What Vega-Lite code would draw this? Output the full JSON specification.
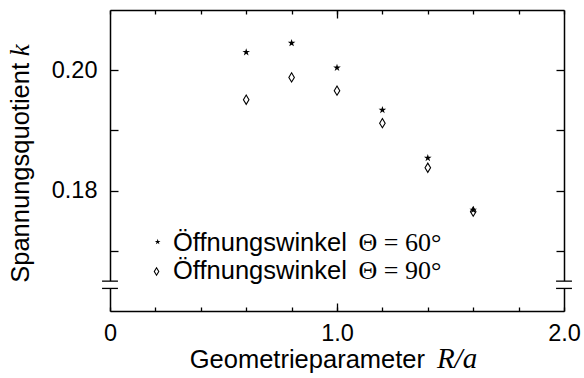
{
  "$schema": "https://vega.github.io/schema/vega-lite/v6.json",
  "width": 454,
  "height": 301,
  "autosize": {"type": "none"},
  "padding": {"left": 110, "top": 10, "right": 20, "bottom": 67},
  "config": {
    "view": {"stroke": null},
    "axis": {
      "grid": false,
      "domainColor": "black",
      "domainWidth": 1.5,
      "tickColor": "black",
      "tickWidth": 1.3,
      "labelColor": "black",
      "labelFont": "Liberation Sans",
      "labelFontSize": 23.5
    }
  },
  "datasets": {
    "points": [
      {"R": 0.6, "k": 0.2030, "theta": "60"},
      {"R": 0.8, "k": 0.2045, "theta": "60"},
      {"R": 1.0, "k": 0.2004, "theta": "60"},
      {"R": 1.2, "k": 0.1934, "theta": "60"},
      {"R": 1.4, "k": 0.1854, "theta": "60"},
      {"R": 1.6, "k": 0.1768, "theta": "60"},
      {"R": 0.6, "k": 0.1951, "theta": "90"},
      {"R": 0.8, "k": 0.1988, "theta": "90"},
      {"R": 1.0, "k": 0.1966, "theta": "90"},
      {"R": 1.2, "k": 0.1912, "theta": "90"},
      {"R": 1.4, "k": 0.1838, "theta": "90"},
      {"R": 1.6, "k": 0.1765, "theta": "90"}
    ],
    "legend": [
      {"theta": "60", "sx": 0.21, "sy": 0.17149, "tx": 0.2775, "ty": 0.16992, "mx": 1.095, "label": "Öffnungswinkel", "math": "Θ = 60°"},
      {"theta": "90", "sx": 0.205, "sy": 0.16657, "tx": 0.2775, "ty": 0.16527, "mx": 1.095, "label": "Öffnungswinkel", "math": "Θ = 90°"}
    ],
    "breakrect": [
      {"bx1": -0.015, "bx2": 0.015, "by1": 0.16375, "by2": 0.16496},
      {"bx1": 1.985, "bx2": 2.015, "by1": 0.16375, "by2": 0.16496}
    ],
    "breaklines": [
      {"bx1": -0.035, "bx2": 0.035, "by": 0.16375},
      {"bx1": -0.035, "bx2": 0.035, "by": 0.16496},
      {"bx1": 1.965, "bx2": 2.035, "by": 0.16375},
      {"bx1": 1.965, "bx2": 2.035, "by": 0.16496}
    ],
    "xtitle": [{"tx": 1.3877, "ty": 0.1506, "mx": 1.44, "label": "Geometrieparameter", "math": "R/a"}],
    "ytitle": [{"tx": -0.355, "ty": 0.2012, "my": 0.2023, "label": "Spannungsquotient", "math": "k"}]
  },
  "layer": [
    {
      "data": {"name": "points"},
      "transform": [{"filter": "datum.theta === '90'"}],
      "mark": {"type": "point", "shape": "M0,-1L0.6,0L0,1L-0.6,0Z", "filled": false, "stroke": "black", "strokeWidth": 1.1, "size": 85, "opacity": 1},
      "encoding": {
        "x": {"field": "R", "type": "quantitative", "scale": {"domain": [0, 2], "nice": false, "zero": false},
          "axis": {"orient": "top", "title": null, "labels": false, "values": [0, 0.2, 0.4, 0.6, 0.8, 1, 1.2, 1.4, 1.6, 1.8, 2], "tickSize": -4}},
        "y": {"field": "k", "type": "quantitative", "scale": {"domain": [0.16, 0.21], "nice": false, "zero": false},
          "axis": {"orient": "right", "title": null, "labels": false, "values": [0.17, 0.18, 0.19, 0.20], "tickSize": -8}}
      }
    },
    {
      "data": {"name": "points"},
      "transform": [{"filter": "datum.theta === '60'"}],
      "mark": {"type": "point", "shape": "M0,-1L0.2245,-0.309L0.951,-0.309L0.363,0.118L0.588,0.809L0,0.382L-0.588,0.809L-0.363,0.118L-0.951,-0.309L-0.2245,-0.309Z", "filled": true, "color": "black", "size": 64, "opacity": 1},
      "encoding": {
        "x": {"field": "R", "type": "quantitative",
          "axis": {"orient": "bottom", "title": null, "values": [0, 0.2, 0.4, 0.6, 0.8, 1, 1.2, 1.4, 1.6, 1.8, 2],
            "labelExpr": "abs(datum.value) < 1e-6 ? '0' : (abs(datum.value - round(datum.value)) < 1e-6 ? format(datum.value, '.1f') : '')",
            "labelFlush": false, "labelOverlap": false, "labelBound": false, "labelPadding": 14, "tickSize": -4}},
        "y": {"field": "k", "type": "quantitative",
          "axis": {"orient": "left", "title": null, "values": [0.17, 0.18, 0.19, 0.20],
            "labelExpr": "(abs(datum.value - 0.18) < 1e-6 || abs(datum.value - 0.2) < 1e-6) ? format(datum.value, '.2f') : ''",
            "labelOverlap": false, "labelFlush": false, "labelBound": false, "labelPadding": 21, "tickSize": -8}}
      }
    },
    {
      "data": {"name": "legend"},
      "transform": [{"filter": "datum.theta === '60'"}],
      "mark": {"type": "point", "shape": "M0,-1L0.2245,-0.309L0.951,-0.309L0.363,0.118L0.588,0.809L0,0.382L-0.588,0.809L-0.363,0.118L-0.951,-0.309L-0.2245,-0.309Z", "filled": true, "color": "black", "size": 36, "opacity": 1},
      "encoding": {
        "x": {"field": "sx", "type": "quantitative", "axis": {"orient": "bottom", "title": null, "labels": false, "domain": false, "values": [1], "tickSize": -8}},
        "y": {"field": "sy", "type": "quantitative", "axis": null}
      }
    },
    {
      "data": {"name": "legend"},
      "transform": [{"filter": "datum.theta === '90'"}],
      "mark": {"type": "point", "shape": "M0,-1L0.6,0L0,1L-0.6,0Z", "filled": false, "stroke": "black", "strokeWidth": 1.1, "size": 56, "opacity": 1},
      "encoding": {
        "x": {"field": "sx", "type": "quantitative", "axis": {"orient": "top", "title": null, "labels": false, "domain": false, "values": [1], "tickSize": -8}},
        "y": {"field": "sy", "type": "quantitative", "axis": null}
      }
    },
    {
      "data": {"name": "legend"},
      "mark": {"type": "text", "align": "left", "baseline": "alphabetic", "font": "Liberation Sans", "fontSize": 25.5, "color": "black"},
      "encoding": {
        "x": {"field": "tx", "type": "quantitative", "axis": null},
        "y": {"field": "ty", "type": "quantitative", "axis": null},
        "text": {"field": "label"}
      }
    },
    {
      "data": {"name": "legend"},
      "mark": {"type": "text", "align": "left", "baseline": "alphabetic", "font": "Liberation Serif", "fontSize": 26, "color": "black"},
      "encoding": {
        "x": {"field": "mx", "type": "quantitative", "axis": null},
        "y": {"field": "ty", "type": "quantitative", "axis": null},
        "text": {"field": "math"}
      }
    },
    {
      "data": {"name": "breakrect"},
      "mark": {"type": "rect", "color": "white", "strokeWidth": 0},
      "encoding": {
        "x": {"field": "bx1", "type": "quantitative", "axis": null},
        "x2": {"field": "bx2"},
        "y": {"field": "by1", "type": "quantitative", "axis": null},
        "y2": {"field": "by2"}
      }
    },
    {
      "data": {"name": "breaklines"},
      "mark": {"type": "rule", "color": "black", "strokeWidth": 1.3},
      "encoding": {
        "x": {"field": "bx1", "type": "quantitative", "axis": null},
        "x2": {"field": "bx2"},
        "y": {"field": "by", "type": "quantitative", "axis": null}
      }
    },
    {
      "data": {"name": "xtitle"},
      "mark": {"type": "text", "align": "right", "baseline": "alphabetic", "font": "Liberation Sans", "fontSize": 25.5, "color": "black"},
      "encoding": {
        "x": {"field": "tx", "type": "quantitative", "axis": null},
        "y": {"field": "ty", "type": "quantitative", "axis": null},
        "text": {"field": "label"}
      }
    },
    {
      "data": {"name": "xtitle"},
      "mark": {"type": "text", "align": "left", "baseline": "alphabetic", "font": "Liberation Serif", "fontStyle": "italic", "fontSize": 29, "color": "black"},
      "encoding": {
        "x": {"field": "mx", "type": "quantitative", "axis": null},
        "y": {"field": "ty", "type": "quantitative", "axis": null},
        "text": {"field": "math"}
      }
    },
    {
      "data": {"name": "ytitle"},
      "mark": {"type": "text", "align": "right", "baseline": "alphabetic", "angle": 270, "font": "Liberation Sans", "fontSize": 25.5, "color": "black"},
      "encoding": {
        "x": {"field": "tx", "type": "quantitative", "axis": null},
        "y": {"field": "ty", "type": "quantitative", "axis": null},
        "text": {"field": "label"}
      }
    },
    {
      "data": {"name": "ytitle"},
      "mark": {"type": "text", "align": "left", "baseline": "alphabetic", "angle": 270, "font": "Liberation Serif", "fontStyle": "italic", "fontSize": 27, "color": "black"},
      "encoding": {
        "x": {"field": "tx", "type": "quantitative", "axis": null},
        "y": {"field": "my", "type": "quantitative", "axis": null},
        "text": {"field": "math"}
      }
    }
  ],
  "resolve": {"axis": {"x": "independent", "y": "independent"}}
}
